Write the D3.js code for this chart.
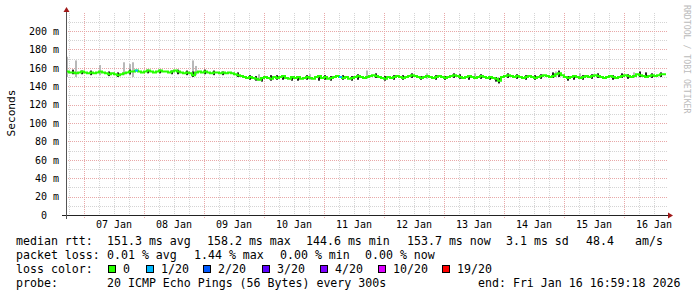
<!DOCTYPE html>
<html>
<head>
<meta charset="utf-8">
<script src="https://cdn.jsdelivr.net/npm/d3@7"></script>
<style>
  body { margin: 0; background: #fff; }
  svg { display: block; font-family: "DejaVu Sans Mono", monospace; }
  .tick text { font-family: "DejaVu Sans Mono", monospace; }
</style>
</head>
<body>
<svg id="chart" width="697" height="297"></svg>
<script>
// median rtt (ms), one value every 72 min from Jan 6 16:59 to Jan 16 16:59
const median = [
  156,155,155,154,155,156,155,154,155,154,
  155,156,155,154,153,154,153,152,153,154,
  155,156,156,157,156,155,156,157,156,155,
  156,157,156,156,155,156,157,156,155,154,
  155,154,152,155,156,155,156,155,154,155,
  155,154,155,154,155,154,153,152,151,150,
  149,150,149,148,147,149,150,149,148,150,
  149,150,151,149,148,150,149,150,148,149,
  150,149,148,150,151,149,150,148,149,150,
  151,150,149,150,148,149,150,151,150,149,
  150,151,152,151,150,149,148,150,149,150,
  151,150,149,150,151,152,151,150,149,150,
  151,150,149,150,151,150,149,150,151,152,
  151,150,149,150,151,150,149,150,151,150,
  149,150,149,148,146,150,151,152,151,150,
  151,150,149,150,151,150,149,150,151,152,
  151,150,151,153,154,152,150,149,150,151,
  150,149,150,151,150,151,152,151,150,149,
  150,151,150,149,150,151,152,151,150,151,
  153,152,151,150,151,152,151,152,153,153
];
// light smoke outliers: [index, low ms, high ms]
const smokeLight = [
  [0,150,172],[3,150,168],[11,152,163],[19,152,166],[21,152,164],[22,150,166],
  [42,152,168],[43,152,162],[64,146,153],[81,147,153],[100,148,157],[120,148,154],
  [136,148,154],[163,150,156],[171,148,154],[189,149,155]
];
// dense smoke around the median: [index, low ms, high ms]
const smokeDark = [
  [2,153,158],[5,153,157],[8,152,157],[14,151,156],[17,150,155],[21,153,158],
  [27,154,158],[31,154,158],[35,153,157],[37,153,158],[40,152,157],[42,150,156],
  [46,153,158],[49,152,157],[52,152,156],[57,150,155],[61,147,152],[63,146,151],
  [65,145,150],[68,146,152],[70,147,152],[72,147,152],[75,146,151],[77,146,151],
  [80,147,152],[84,146,151],[86,147,152],[88,146,151],[92,147,152],[95,146,151],
  [97,147,153],[103,149,154],[106,146,151],[109,147,152],[112,147,152],[115,149,154],
  [118,147,151],[123,147,152],[126,147,151],[129,149,154],[131,148,153],[134,147,152],
  [138,148,153],[141,147,151],[143,145,150],[144,143,149],[147,149,154],[150,148,153],
  [153,147,152],[156,147,152],[158,148,153],[162,149,155],[164,150,157],[167,146,151],
  [169,147,152],[172,147,152],[175,148,153],[177,149,154],[182,147,152],[185,149,154],
  [187,148,153],[191,150,156],[193,150,155],[195,149,154],[198,150,155]
];
// samples with loss: [index, loss class]
const lossPoints = [[23,1],[91,1]];

const lossLabels = ["0","1/20","2/20","3/20","4/20","10/20","19/20"];
const lossColors = ["#26ff00","#00b8ff","#0059ff","#5e00ff","#7e00ff","#dd00ff","#ff0000"];
const yTicks = [0,20,40,60,80,100,120,140,160,180,200];
const dayLabels = ["07 Jan","08 Jan","09 Jan","10 Jan","11 Jan","12 Jan","13 Jan","14 Jan","15 Jan","16 Jan"];
const rttStats = ["151.3 ms avg","158.2 ms max","144.6 ms min","153.7 ms now","3.1 ms sd","48.4","am/s"];
const lossStats = ["0.01 % avg","1.44 % max","0.00 % min","0.00 % now"];
const probeText = "20 ICMP Echo Pings (56 Bytes) every 300s";
const endText = "end: Fri Jan 16 16:59:18 2026";

const t0 = new Date(Date.UTC(2026,0,6,16,59,18));
const t1 = new Date(Date.UTC(2026,0,16,16,59,18));
const step = 4320 * 1000;
const tAt = i => new Date(t0.getTime() + i * step);

const svg = d3.select("#chart");
const pL = 66, pR = 666, pT = 12.6, pB = 215;

const x = d3.scaleUtc().domain([t0, t1]).range([pL, pR]);
const y = d3.scaleLinear().domain([0, 220]).range([pB, pT]);

// grid
const grid = svg.append("g").attr("shape-rendering", "crispEdges");
const minorY = d3.range(0, 221, 10).filter(v => v % 20 !== 0);
grid.selectAll(".gy").data(minorY).enter().append("line")
  .attr("x1", pL).attr("x2", pR + 2)
  .attr("y1", d => Math.round(y(d)) + 0.5).attr("y2", d => Math.round(y(d)) + 0.5)
  .attr("stroke", "#d4d4d4").attr("stroke-dasharray", "1,1");
const hours = x.ticks(d3.utcHour.every(6)).filter(d => d.getUTCHours() !== 0);
grid.selectAll(".gx").data(hours).enter().append("line")
  .attr("x1", d => Math.round(x(d)) + 0.5).attr("x2", d => Math.round(x(d)) + 0.5)
  .attr("y1", pT).attr("y2", pB)
  .attr("stroke", "#d4d4d4").attr("stroke-dasharray", "1,1");
grid.selectAll(".my").data(yTicks.slice(1)).enter().append("line")
  .attr("x1", pL).attr("x2", pR + 2)
  .attr("y1", d => Math.round(y(d)) + 0.5).attr("y2", d => Math.round(y(d)) + 0.5)
  .attr("stroke", "#e8a8a8").attr("stroke-dasharray", "1,1");
const days = x.ticks(d3.utcDay.every(1));
grid.selectAll(".mx").data(days).enter().append("line")
  .attr("x1", d => Math.round(x(d)) + 0.5).attr("x2", d => Math.round(x(d)) + 0.5)
  .attr("y1", pT).attr("y2", pB + 3)
  .attr("stroke", "#e8a8a8").attr("stroke-dasharray", "1,1");

// smoke
const pw = x(tAt(1)) - x(tAt(0));
svg.append("g").selectAll("rect").data(smokeLight).enter().append("rect")
  .attr("x", d => x(tAt(d[0]))).attr("width", pw - 1)
  .attr("y", d => y(d[2])).attr("height", d => y(d[1]) - y(d[2]))
  .attr("fill", "#b8b8b8");
svg.append("g").selectAll("rect").data(smokeDark).enter().append("rect")
  .attr("x", d => x(tAt(d[0]))).attr("width", 2)
  .attr("y", d => y(d[2])).attr("height", d => y(d[1]) - y(d[2]))
  .attr("fill", "#222");

// median line coloured by loss
const pts = median.map((v, i) => [tAt(i), v]).concat([[t1, median[median.length - 1]]]);
const line = d3.line().x(d => x(d[0])).y(d => y(d[1])).curve(d3.curveStepAfter);
svg.append("path").datum(pts).attr("d", line)
  .attr("fill", "none").attr("stroke", lossColors[0]).attr("stroke-width", 2);
svg.append("g").selectAll("line").data(lossPoints).enter().append("line")
  .attr("x1", d => x(tAt(d[0]))).attr("x2", d => x(tAt(d[0] + 1)))
  .attr("y1", d => y(median[d[0]])).attr("y2", d => y(median[d[0]]))
  .attr("stroke", d => lossColors[d[1]]).attr("stroke-width", 2);

// axes
const yAxis = d3.axisLeft(y).tickValues(yTicks).tickSize(0).tickPadding(7)
  .tickFormat(d => d ? d + " m" : "0\u00a0\u00a0");
const gy = svg.append("g").attr("transform", `translate(${pL},0)`).call(yAxis);
gy.select(".domain").remove();
gy.selectAll("text").attr("font-size", 10).attr("fill", "#000");

const noons = dayLabels.map((s, i) => new Date(Date.UTC(2026, 0, 7 + i, 12)));
const xAxis = d3.axisBottom(x).tickValues(noons).tickSize(0).tickPadding(6)
  .tickFormat((d, i) => dayLabels[i]);
const gx = svg.append("g").attr("transform", `translate(0,${pB})`).call(xAxis);
gx.select(".domain").remove();
gx.selectAll("text").attr("font-size", 10).attr("fill", "#000");

svg.append("line").attr("x1", pL - 4).attr("x2", pR + 3)
  .attr("y1", pB + 0.5).attr("y2", pB + 0.5).attr("stroke", "#222");
svg.append("line").attr("x1", pL + 0.5).attr("x2", pL + 0.5)
  .attr("y1", 10).attr("y2", pB + 4).attr("stroke", "#555");
svg.append("path").attr("d", `M${pR + 2},${pB - 2.5}L${pR + 7},${pB + 0.5}L${pR + 2},${pB + 3.5}Z`)
  .attr("fill", "#a01818");
svg.append("path").attr("d", `M${pL - 2.5},${12}L${pL + 0.5},${7}L${pL + 3.5},${12}Z`)
  .attr("fill", "#a01818");

// titles
svg.append("text").attr("transform", "translate(15,113) rotate(-90)")
  .attr("text-anchor", "middle").attr("font-size", 11.2).text("Seconds");
svg.append("text").attr("transform", "translate(684,5) rotate(90)")
  .attr("font-size", 8.2).attr("fill", "#bbb").text("RRDTOOL / TOBI OETIKER");

// legend
const lg = svg.append("g").attr("font-size", 11.6).attr("fill", "#000")
  .style("white-space", "pre");
const row = (txt, xx, yy) => lg.append("text").attr("x", xx).attr("y", yy).text(txt);
row("median rtt:", 16, 245);
[107, 207, 306, 407, 506, 586, 635].forEach((xx, i) => row(rttStats[i], xx, 245));
row("packet loss:", 16, 259);
[107, 194, 280, 365].forEach((xx, i) => row(lossStats[i], xx, 259));
row("loss color:", 16, 273);
[108, 146, 203, 262, 320, 378, 442].forEach((xx, i) => {
  lg.append("rect").attr("x", xx + 0.5).attr("y", 265.5).attr("width", 7).attr("height", 7)
    .attr("fill", lossColors[i]).attr("stroke", "#000");
  row(lossLabels[i], xx + 15, 273);
});
row("probe:", 16, 287);
row(probeText, 107, 287);
row(endText, 478, 287);
</script>
</body>
</html>
